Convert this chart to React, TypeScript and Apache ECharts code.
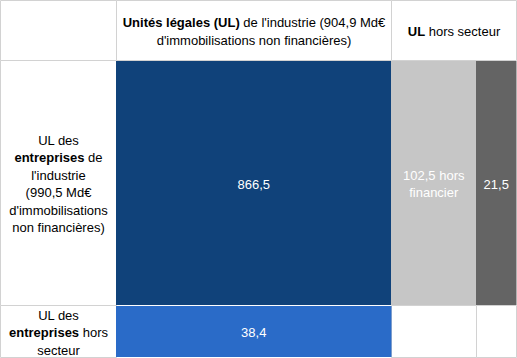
import React, { useEffect, useRef } from "react";
import * as echarts from "echarts";

// ---- data ----
const colHeaders = [
  "{b|Unités légales (UL)} de l'industrie (904,9 Md€\nd'immobilisations non financières)",
  "{b|UL} hors secteur",
];
const rowLabels = [
  "UL des\n{b|entreprises} de\nl'industrie\n(990,5 Md€\nd'immobilisations\nnon financières)",
  "UL des\n{b|entreprises} hors\nsecteur",
];
const ulIndustrie = [866.5, 38.4];
const ulHorsSecteurNonFinancier: (number | null)[] = [102.5, null];
const ulHorsSecteurFinancier: (number | null)[] = [21.5, null];
const nonFinancierSuffix = " hors\nfinancier";

// ---- layout / style ----
const W = 517;
const H = 358;
const xEdges = [0.5, 116.5, 391.5, 476.5, 516.5];
const yEdges = [0.5, 60.5, 305.5, 357.5];
const BORDER = "#d2d2d2";
const FONT = "'Liberation Sans', Arial, sans-serif";
const industrieColors = ["#10427a", "#2a6bc8"];
const NONFIN_COLOR = "#c6c6c6";
const FIN_COLOR = "#646464";

const fmt = (v: number) => v.toFixed(1).replace(".", ",");

type Cell = {
  c0: number;
  c1: number;
  r: number;
  fill: string;
  stroke: boolean;
  text: string;
  color: string;
};

const cells: Cell[] = [];
cells.push({ c0: 0, c1: 1, r: 0, fill: "#fff", stroke: true, text: "", color: "#000" });
cells.push({ c0: 1, c1: 2, r: 0, fill: "#fff", stroke: true, text: colHeaders[0], color: "#000" });
cells.push({ c0: 2, c1: 4, r: 0, fill: "#fff", stroke: true, text: colHeaders[1], color: "#000" });
rowLabels.forEach((t, i) =>
  cells.push({ c0: 0, c1: 1, r: i + 1, fill: "#fff", stroke: true, text: t, color: "#000" })
);
ulIndustrie.forEach((v, i) =>
  cells.push({ c0: 1, c1: 2, r: i + 1, fill: industrieColors[i], stroke: false, text: fmt(v), color: "#fff" })
);
ulHorsSecteurNonFinancier.forEach((v, i) =>
  cells.push(
    v == null
      ? { c0: 2, c1: 3, r: i + 1, fill: "#fff", stroke: true, text: "", color: "#fff" }
      : { c0: 2, c1: 3, r: i + 1, fill: NONFIN_COLOR, stroke: false, text: fmt(v) + nonFinancierSuffix, color: "#fff" }
  )
);
ulHorsSecteurFinancier.forEach((v, i) =>
  cells.push(
    v == null
      ? { c0: 3, c1: 4, r: i + 1, fill: "#fff", stroke: true, text: "", color: "#fff" }
      : { c0: 3, c1: 4, r: i + 1, fill: FIN_COLOR, stroke: false, text: fmt(v), color: "#fff" }
  )
);
// draw bordered (white) cells first, coloured ones on top
const ordered = [...cells.filter((c) => c.stroke), ...cells.filter((c) => !c.stroke)];

export default function App() {
  const ref = useRef<HTMLDivElement>(null);
  useEffect(() => {
    if (!ref.current) return;
    const chart = echarts.init(ref.current, null, { renderer: "svg" });
    chart.setOption({
      animation: false,
      grid: { left: 0, right: 0, top: 0, bottom: 0 },
      xAxis: { type: "value", min: 0, max: W, show: false },
      yAxis: { type: "value", min: 0, max: H, inverse: true, show: false },
      series: [
        {
          type: "custom",
          silent: true,
          clip: false,
          data: ordered.map((c) => [c.c0, c.r]),
          renderItem: (params: any, api: any) => {
            const c = ordered[params.dataIndex];
            const p0 = api.coord([xEdges[c.c0], yEdges[c.r]]);
            const p1 = api.coord([xEdges[c.c1], yEdges[c.r + 1]]);
            let x = p0[0], y = p0[1], w = p1[0] - p0[0], h = p1[1] - p0[1];
            if (!c.stroke) {
              x -= 0.5;
              y += 0.5;
              w += 0.5;
              h -= 1;
            }
            const children: any[] = [
              {
                type: "rect",
                shape: { x, y, width: w, height: h },
                style: c.stroke
                  ? { fill: c.fill, stroke: BORDER, lineWidth: 1 }
                  : { fill: c.fill },
              },
            ];
            if (c.text) {
              children.push({
                type: "text",
                style: {
                  text: c.text,
                  x: x + w / 2,
                  y: y + h / 2 + 1,
                  align: "center",
                  verticalAlign: "middle",
                  fill: c.color,
                  fontSize: 13,
                  fontFamily: FONT,
                  lineHeight: 17.5,
                  rich: {
                    b: {
                      fontWeight: "bold",
                      fontSize: 13,
                      fontFamily: FONT,
                      lineHeight: 17.5,
                      fill: c.color,
                    },
                  },
                },
              });
            }
            return { type: "group", children };
          },
        },
      ],
    });
    return () => chart.dispose();
  }, []);
  return (
    <div
      ref={ref}
      style={{ position: "absolute", left: 0, top: 0, width: W, height: H, background: "#fff" }}
    />
  );
}
